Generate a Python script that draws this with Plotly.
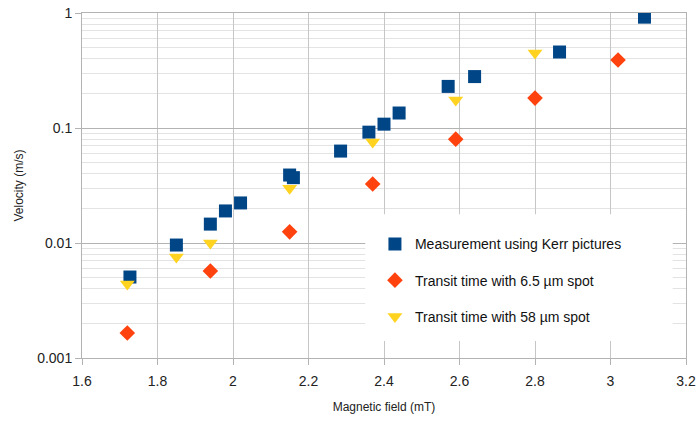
import plotly.graph_objects as go

# Measurement using Kerr pictures
kerr_x = [1.727, 1.85, 1.94, 1.98, 2.02, 2.15, 2.16, 2.285, 2.36, 2.40, 2.44, 2.57, 2.64, 2.865, 3.09]
kerr_y = [0.00506, 0.0096, 0.0146, 0.019, 0.0223, 0.039, 0.037, 0.063, 0.092, 0.108, 0.135, 0.23, 0.28, 0.458, 0.92]

# Transit time with 6.5 um spot
small_x = [1.72, 1.94, 2.15, 2.37, 2.59, 2.80, 3.02]
small_y = [0.00165, 0.0057, 0.0125, 0.0326, 0.080, 0.182, 0.39]

# Transit time with 58 um spot
large_x = [1.72, 1.85, 1.94, 2.15, 2.37, 2.59, 2.80]
large_y = [0.0044, 0.00755, 0.0100, 0.030, 0.0755, 0.175, 0.449]

x_ticks = [1.6, 1.8, 2.0, 2.2, 2.4, 2.6, 2.8, 3.0, 3.2]
x_ticktext = ["1.6", "1.8", "2", "2.2", "2.4", "2.6", "2.8", "3", "3.2"]
y_ticks = [0.001, 0.01, 0.1, 1]
y_ticktext = ["0.001", "0.01", "0.1", "1"]
y_minor = [m * 10 ** e for e in (-3, -2, -1) for m in range(2, 10)]

font = "Liberation Sans, Arial, sans-serif"

fig = go.Figure()
fig.add_trace(go.Scatter(
    x=kerr_x, y=kerr_y, mode="markers", name="Measurement using Kerr pictures",
    legendgroup="a",
    marker=dict(symbol="square", size=13, color="#004586", line=dict(width=0))))
fig.add_trace(go.Scatter(
    x=small_x, y=small_y, mode="markers", name="Transit time with 6.5 µm spot",
    legendgroup="b",
    marker=dict(symbol="diamond", size=12, color="#ff420e", line=dict(width=0))))
fig.add_trace(go.Scatter(
    x=large_x, y=large_y, mode="markers", name="Transit time with 58 µm spot",
    legendgroup="c",
    marker=dict(symbol="triangle-down", size=13, color="#ffd320", line=dict(width=0))))

# white legend backdrop covering the grid (no markers fall inside it)
fig.add_shape(type="rect", xref="paper", yref="paper",
              x0=0.469, x1=0.978, y0=0.049, y1=0.417,
              fillcolor="white", line=dict(width=0), layer="above")

fig.update_layout(
    width=699, height=421,
    margin=dict(l=82, r=13, t=13, b=63),
    paper_bgcolor="white", plot_bgcolor="white",
    font=dict(family=font, color="#222222"),
    showlegend=True,
    legend=dict(
        x=0.485, y=0.225, xanchor="left", yanchor="middle",
        bgcolor="rgba(255,255,255,0)", borderwidth=0,
        font=dict(family=font, size=14, color="#111111"),
        traceorder="grouped", tracegroupgap=15,
        itemwidth=30,
    ),
    xaxis=dict(
        range=[1.6, 3.2], tickmode="array", tickvals=x_ticks, ticktext=x_ticktext,
        automargin=False,
        showgrid=True, gridcolor="#c6c6c6", gridwidth=1,
        showline=True, linecolor="#b3b3b3", linewidth=1, mirror=True,
        ticks="outside", ticklen=6, tickcolor="#b3b3b3",
        ticklabelstandoff=4,
        tickfont=dict(family=font, size=14, color="#222222"),
        zeroline=False,
        title=dict(text="Magnetic field (mT)", font=dict(family=font, size=12, color="#222222"), standoff=14),
    ),
    yaxis=dict(
        type="log", range=[-3, 0], tickmode="array", tickvals=y_ticks, ticktext=y_ticktext,
        automargin=False,
        showgrid=True, gridcolor="#b3b3b3", gridwidth=1,
        showline=True, linecolor="#b3b3b3", linewidth=1, mirror=True,
        ticks="outside", ticklen=6, tickcolor="#b3b3b3",
        tickfont=dict(family=font, size=14, color="#222222"),
        zeroline=False,
        minor=dict(tickmode="array", tickvals=y_minor, showgrid=True,
                   gridcolor="#e3e3e3", gridwidth=1, ticklen=0),
        title=dict(text="Velocity (m/s)", font=dict(family=font, size=12, color="#222222"), standoff=10),
    ),
)

fig.write_html("out.html", config={"displayModeBar": False},
               post_script="document.body.style.margin='0';")
